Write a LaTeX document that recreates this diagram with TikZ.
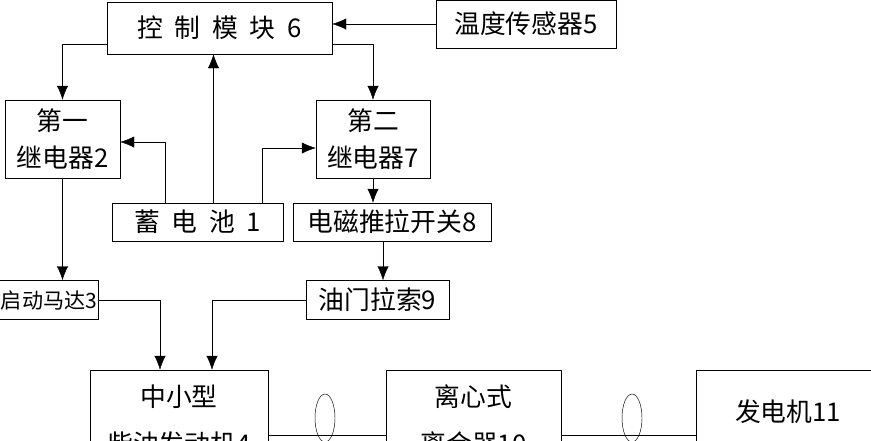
\documentclass[tikz,border=0pt]{standalone}
\usepackage{fontspec}
\setmainfont{Noto Sans CJK SC}
\usetikzlibrary{arrows.meta,calc}
\tikzset{
  blk/.style={draw, thin, inner sep=0pt, align=center, font=\fontsize{22}{32}\selectfont},
  arr/.style={-{Latex[length=0.42cm,width=0.34cm]}, thin},
}
\newcommand{\gp}{\hspace{0.45em}}
\begin{document}
\begin{tikzpicture}[x=0.03cm, y=-0.03cm]
        \useasboundingbox (0,0) rectangle (871,440);
        \clip (0,0) rectangle (871,440);

        % Control part
        \node[blk, minimum width=6.75cm, minimum height=1.56cm] (ctrl)  at (219.5, 28) {控\gp 制\gp 模\gp 块\gp 6};
        \node[blk, minimum width=5.4cm,  minimum height=1.44cm] (temp)  at (526, 24)   {温度传感器5};
        \node[blk, minimum width=3.45cm, minimum height=2.34cm] (rlya)  at (62.5, 139) {第一\\继电器2};
        \node[blk, minimum width=3.42cm, minimum height=2.34cm] (rlyb)  at (373, 139)  {第二\\继电器7};
        \node[blk, minimum width=5.13cm, minimum height=1.14cm] (bat)   at (197.5, 222) {蓄\gp 电\gp 池\gp 1};
        \node[blk, minimum width=5.94cm, minimum height=1.14cm] (push)  at (392, 222)  {电磁推拉开关8};
        \node[blk, minimum width=2.97cm, minimum height=1.17cm, font=\fontsize{18}{32}\selectfont] (motor) at (49, 300) {启动马达3};
        \node[blk, minimum width=4.29cm, minimum height=1.17cm] (thr)   at (377.5, 300) {油门拉索9};

        % Power train
        \node[blk, minimum width=5.34cm, minimum height=3.9cm] (eng)   at (179, 435)   {};
        \node[blk, minimum width=5.25cm, minimum height=3.9cm] (clu)   at (473.5, 435) {};
        \node[blk, minimum width=5.52cm, minimum height=3.9cm] (gen)   at (788, 435)   {};
        \node[font=\fontsize{22}{40}\selectfont, align=center] (engt) at (179, 420)   {中小型\\柴油发动机4};
        \node[font=\fontsize{22}{40}\selectfont, align=center] (clut) at (473.5, 420) {离心式\\离合器10};
        \node[font=\fontsize{22}{32}\selectfont] (gent) at (788, 412) {发电机11};

        % Connections
        \draw[arr] (temp.west) -- (temp.west -| ctrl.east);
        \draw[arr] ([yshift=-0.48cm]ctrl.west) -| (rlya.north);
        \draw[arr] ([yshift=-0.48cm]ctrl.east) -| (rlyb.north);
        \draw[arr] ([xshift=0.48cm]bat.north) -- ([xshift=0.48cm]bat.north |- ctrl.south);
        \draw[arr] ([xshift=-0.975cm]bat.north) |- ([yshift=-0.09cm]rlya.east);
        \draw[arr] ([xshift=1.935cm]bat.north) |- ([yshift=-0.27cm]rlyb.west);
        \draw[arr] (rlyb.south) -- (rlyb.south |- push.north);
        \draw[arr] ([xshift=-0.27cm]push.south) -- ([xshift=-0.27cm]push.south |- thr.north);
        \draw[arr] (rlya.south) -- (rlya.south |- motor.north);
        \draw[arr] (motor.east) -| ([xshift=-0.57cm]eng.north);
        \draw[arr] (thr.west) -| ([xshift=0.99cm]eng.north);

        % Shafts
        \draw (eng.east) -- (clu.west);
        \draw (clu.east) -- (gen.west);
        \draw (325, 418) ellipse (0.3cm and 0.72cm);
        \draw (632, 418) ellipse (0.3cm and 0.72cm);
\end{tikzpicture}
\end{document}
